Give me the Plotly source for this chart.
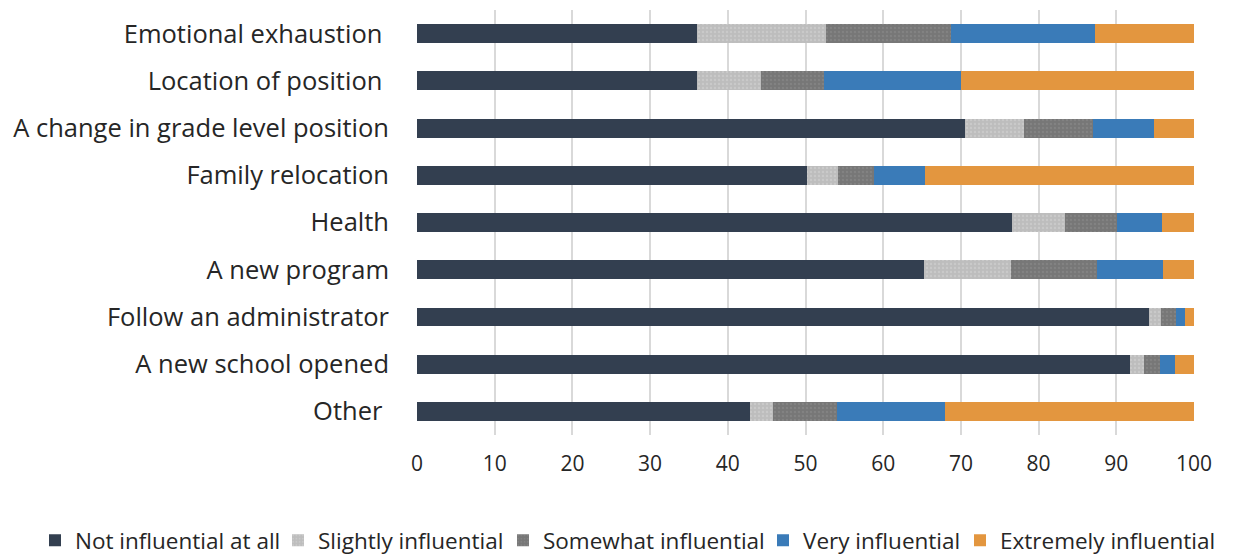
import plotly.graph_objects as go

categories = [
    "Emotional exhaustion\u00a0",
    "Location of position\u00a0",
    "A change in grade level position",
    "Family relocation",
    "Health",
    "A new program",
    "Follow an administrator",
    "A new school opened",
    "Other\u00a0",
]

not_influential = [36.0, 36.0, 70.5, 50.2, 76.6, 65.3, 94.2, 91.8, 42.8]
slightly = [16.7, 8.3, 7.6, 4.0, 6.8, 11.1, 1.6, 1.7, 3.0]
somewhat = [16.0, 8.1, 8.9, 4.6, 6.7, 11.1, 1.9, 2.1, 8.2]
very = [18.5, 17.6, 7.8, 6.6, 5.8, 8.5, 1.2, 2.0, 13.9]
extremely = [12.8, 30.0, 5.2, 34.6, 4.1, 4.0, 1.1, 2.4, 32.1]

series_names = [
    "Not influential at all",
    "Slightly influential",
    "Somewhat influential",
    "Very influential",
    "Extremely influential",
]
series_values = [not_influential, slightly, somewhat, very, extremely]
colors = ["#333f50", "#bfbfbf", "#7f7f7f", "#3a7bb8", "#e3963f"]
patterns = [None, ("#d6d6d6", "#bdbdbd"), ("#8e8e8e", "#777777"), None, None]
# left edge (container px) of each legend entry
legend_left_px = [27, 270, 495, 755, 952]

FONT = "Open Sans"
W, H = 1237, 556

fig = go.Figure()
legend_layout = {}
for i, (name, vals, col, pat) in enumerate(zip(series_names, series_values, colors, patterns)):
    marker = dict(color=col, line=dict(width=0))
    if pat is not None:
        marker["pattern"] = dict(shape=".", fgcolor=pat[0], bgcolor=pat[1], size=4, solidity=0.25)
    lg = "legend" if i == 0 else f"legend{i+1}"
    fig.add_trace(go.Bar(
        y=categories, x=vals, name=name, orientation="h", marker=marker,
        legend=lg, showlegend=True,
    ))
    legend_layout[lg] = dict(
        orientation="h",
        xref="container", yref="container",
        x=legend_left_px[i] / W, xanchor="left",
        y=0.042, yanchor="middle",
        font=dict(family=FONT, size=22.5, color="#262626"),
        itemwidth=30,
        borderwidth=0,
        bgcolor="rgba(0,0,0,0)",
        visible=True,
    )

fig.update_layout(
    showlegend=True,
    barmode="stack",
    bargap=0.6,
    width=W,
    height=H,
    margin=dict(l=409, r=51, t=2, b=129, autoexpand=False),
    plot_bgcolor="white",
    paper_bgcolor="white",
    font=dict(family=FONT, size=21, color="#262626"),
    xaxis=dict(
        range=[0, 100],
        tickvals=[0, 10, 20, 30, 40, 50, 60, 70, 80, 90, 100],
        showgrid=True,
        gridcolor="#d9d9d9",
        gridwidth=1.5,
        zeroline=False,
        showline=False,
        ticks="",
        tickfont=dict(family=FONT, size=21, color="#262626"),
        ticklabelstandoff=14,
    ),
    yaxis=dict(
        autorange="reversed",
        showgrid=False,
        showline=False,
        ticks="",
        tickfont=dict(family=FONT, size=25.5, color="#262626"),
        ticklabelstandoff=27,
    ),
    **legend_layout,
)

fig.write_html("out.html")
